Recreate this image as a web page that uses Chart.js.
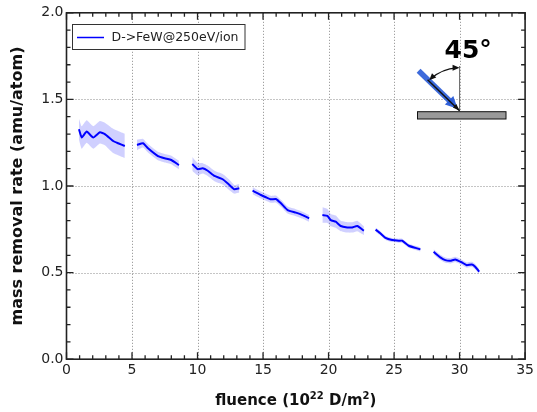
<!DOCTYPE html>
<html>
<head>
<meta charset="utf-8">
<script src="https://cdn.jsdelivr.net/npm/chart.js@4/dist/chart.umd.min.js"></script>
<style>
  html, body { margin: 0; padding: 0; background: #fff; }
  #wrap { width: 537px; height: 412px; }
</style>
</head>
<body>
<div id="wrap"><canvas id="c" width="537" height="412"></canvas></div>
<script>
// fluence (10^22 D/m^2), one list per measurement run
const fluence = [
  [0.95, 1.16, 1.54, 2.04, 2.55, 2.93, 3.56, 3.94, 4.45],
  [5.38, 5.84, 6.22, 6.98, 7.49, 8.0, 8.58],
  [9.6, 10.02, 10.4, 10.78, 11.29, 11.92, 12.43, 12.81, 13.19],
  [14.2, 14.84, 15.22, 15.6, 15.98, 16.37, 16.87, 17.51, 18.01, 18.52],
  [19.53, 19.91, 20.17, 20.55, 20.93, 21.43, 21.81, 22.19, 22.7],
  [23.59, 23.95, 24.35, 24.85, 25.36, 25.61, 26.12, 26.63, 27.01],
  [28.02, 28.53, 28.91, 29.29, 29.67, 30.17, 30.55, 30.94, 31.19, 31.5]
];
// mass removal rate (amu/atom)
const removalRate = [
  [1.328, 1.28, 1.314, 1.28, 1.31, 1.30, 1.26, 1.247, 1.231],
  [1.237, 1.247, 1.218, 1.173, 1.16, 1.15, 1.121],
  [1.127, 1.097, 1.102, 1.088, 1.058, 1.039, 1.006, 0.981, 0.987],
  [0.973, 0.948, 0.935, 0.923, 0.925, 0.90, 0.861, 0.846, 0.832, 0.813],
  [0.832, 0.827, 0.803, 0.794, 0.769, 0.761, 0.761, 0.769, 0.742],
  [0.748, 0.727, 0.70, 0.688, 0.684, 0.684, 0.655, 0.643, 0.634],
  [0.62, 0.588, 0.572, 0.568, 0.576, 0.559, 0.543, 0.547, 0.534, 0.505]
];
// half width of the shaded band
const rateSpread = [
  [0.06, 0.065, 0.065, 0.065, 0.065, 0.065, 0.07, 0.07, 0.07],
  [0.03, 0.025, 0.025, 0.025, 0.025, 0.025, 0.025],
  [0.04, 0.035, 0.03, 0.03, 0.03, 0.03, 0.03, 0.025, 0.025],
  [0.02, 0.02, 0.02, 0.02, 0.02, 0.02, 0.02, 0.02, 0.02, 0.02],
  [0.045, 0.04, 0.035, 0.035, 0.03, 0.03, 0.03, 0.03, 0.025],
  [0.012, 0.012, 0.012, 0.012, 0.012, 0.012, 0.012, 0.012, 0.012],
  [0.015, 0.015, 0.015, 0.015, 0.015, 0.015, 0.015, 0.015, 0.015, 0.015]
];
const xTicks = [0, 5, 10, 15, 20, 25, 30, 35];
const yTicks = [0, 0.5, 1.0, 1.5, 2.0];
const seriesLabel = "D->FeW@250eV/ion";
const angleLabel = "45°";

const FONT = "'DejaVu Sans', Verdana, sans-serif";
const LINE = "#0000ff";
const BAND = "rgba(80,80,255,0.27)";
const TENSION = 0.15;

const datasets = [];
fluence.forEach((xs, i) => {
  const lowIdx = datasets.length;
  datasets.push({
    data: xs.map((x, j) => ({ x: x, y: removalRate[i][j] - rateSpread[i][j] })),
    borderWidth: 0, pointRadius: 0, fill: false, tension: TENSION, order: 2
  });
  datasets.push({
    data: xs.map((x, j) => ({ x: x, y: removalRate[i][j] + rateSpread[i][j] })),
    borderWidth: 0, pointRadius: 0, fill: { target: lowIdx }, backgroundColor: BAND,
    tension: TENSION, order: 2
  });
  datasets.push({
    data: xs.map((x, j) => ({ x: x, y: removalRate[i][j] })),
    borderColor: LINE, borderWidth: 2, pointRadius: 0, fill: false, tension: TENSION, order: 1
  });
});

function arrowHead(ctx, x, y, ang, len, wid) {
  ctx.beginPath();
  ctx.moveTo(x, y);
  ctx.lineTo(x - len * Math.cos(ang) + wid * Math.sin(ang), y - len * Math.sin(ang) - wid * Math.cos(ang));
  ctx.lineTo(x - len * Math.cos(ang) - wid * Math.sin(ang), y - len * Math.sin(ang) + wid * Math.cos(ang));
  ctx.closePath();
  ctx.fill();
}

const framePlugin = {
  id: "frame",
  beforeDatasetsDraw(chart) {
    const { ctx, chartArea: a, scales: { x, y } } = chart;
    ctx.save();
    ctx.strokeStyle = "#8a8a8a";
    ctx.lineWidth = 1;
    ctx.setLineDash([1, 2]);
    xTicks.slice(1, -1).forEach(v => {
      const px = Math.round(x.getPixelForValue(v)) + 0.5;
      ctx.beginPath(); ctx.moveTo(px, a.top); ctx.lineTo(px, a.bottom); ctx.stroke();
    });
    yTicks.slice(1, -1).forEach(v => {
      const py = Math.round(y.getPixelForValue(v)) + 0.5;
      ctx.beginPath(); ctx.moveTo(a.left, py); ctx.lineTo(a.right, py); ctx.stroke();
    });
    ctx.restore();
  },
  afterDatasetsDraw(chart) {
    const { ctx, chartArea: a, scales: { x, y } } = chart;
    ctx.save();

    // tick marks, inward, all four sides
    ctx.strokeStyle = "#222";
    ctx.lineWidth = 1.3;
    for (let v = 0; v <= 35; v++) {
      const px = x.getPixelForValue(v);
      const len = v % 5 === 0 ? 7 : 4;
      ctx.beginPath();
      ctx.moveTo(px, a.bottom); ctx.lineTo(px, a.bottom - len);
      ctx.moveTo(px, a.top); ctx.lineTo(px, a.top + len);
      ctx.stroke();
    }
    for (let k = 0; k <= 20; k++) {
      const py = y.getPixelForValue(k / 10);
      const len = k % 5 === 0 ? 7 : 4;
      ctx.beginPath();
      ctx.moveTo(a.left, py); ctx.lineTo(a.left + len, py);
      ctx.moveTo(a.right, py); ctx.lineTo(a.right - len, py);
      ctx.stroke();
    }
    ctx.lineWidth = 1.6;
    ctx.strokeRect(a.left, a.top, a.right - a.left, a.bottom - a.top);

    // legend
    ctx.fillStyle = "#fff";
    ctx.fillRect(72.5, 24.5, 172.5, 25);
    ctx.strokeStyle = "#333";
    ctx.lineWidth = 1;
    ctx.strokeRect(72.5, 24.5, 172.5, 25);
    ctx.strokeStyle = LINE;
    ctx.lineWidth = 1.5;
    ctx.beginPath(); ctx.moveTo(77, 37.5); ctx.lineTo(104, 37.5); ctx.stroke();
    ctx.fillStyle = "#222";
    ctx.font = "12.5px " + FONT;
    ctx.textBaseline = "middle";
    ctx.textAlign = "left";
    ctx.fillText(seriesLabel, 111.5, 38);

    // inset: 45 degree incidence sketch
    const tipX = x.getPixelForValue(30), tipY = 110.7;
    ctx.fillStyle = "#999";
    ctx.fillRect(417.5, 111.7, 88.5, 7.3);
    ctx.strokeStyle = "#111";
    ctx.lineWidth = 1;
    ctx.strokeRect(417.5, 111.7, 88.5, 7.3);
    ctx.strokeStyle = "#666";
    ctx.beginPath(); ctx.moveTo(tipX, 66); ctx.lineTo(tipX, tipY); ctx.stroke();
    ctx.strokeStyle = "rgba(40,90,215,0.9)";
    ctx.lineWidth = 5.5;
    ctx.beginPath(); ctx.moveTo(tipX - 41, tipY - 40); ctx.lineTo(tipX - 8, tipY - 8); ctx.stroke();
    ctx.fillStyle = "rgba(40,90,215,0.95)";
    arrowHead(ctx, tipX - 2, tipY - 2, Math.PI / 4, 12, 6);
    ctx.strokeStyle = "#111";
    ctx.lineWidth = 1.5;
    ctx.beginPath(); ctx.moveTo(tipX - 32, tipY - 31); ctx.lineTo(tipX, tipY); ctx.stroke();
    ctx.fillStyle = "#111";
    arrowHead(ctx, tipX, tipY, Math.PI / 4, 7, 2.5);
    // angle arc
    const r = 43;
    ctx.lineWidth = 1.2;
    ctx.beginPath(); ctx.arc(tipX, tipY, r, -Math.PI * 0.73, -Math.PI * 0.52); ctx.stroke();
    const p1 = -Math.PI * 0.75, p2 = -Math.PI * 0.5;
    arrowHead(ctx, tipX + r * Math.cos(p1), tipY + r * Math.sin(p1), p1 - Math.PI / 2, 7, 3);
    arrowHead(ctx, tipX + r * Math.cos(p2), tipY + r * Math.sin(p2), p2 + Math.PI / 2, 7, 3);
    ctx.fillStyle = "#000";
    ctx.font = "bold 25px " + FONT;
    ctx.textBaseline = "alphabetic";
    ctx.fillText(angleLabel, 444.5, 57.5);

    // axis titles
    ctx.fillStyle = "#111";
    ctx.font = "bold 16px " + FONT;
    ctx.textAlign = "center";
    ctx.textBaseline = "middle";
    ctx.translate(18, (a.top + a.bottom) / 2);
    ctx.rotate(-Math.PI / 2);
    ctx.fillText("mass removal rate (amu/atom)", 0, 0);
    ctx.setTransform(1, 0, 0, 1, 0, 0);

    const parts = [["fluence (10", 15, 0], ["22", 10, -6], [" D/m", 15, 0], ["2", 10, -6], [")", 15, 0]];
    ctx.textAlign = "left";
    ctx.textBaseline = "alphabetic";
    let w = 0;
    parts.forEach(p => { ctx.font = "bold " + p[1] + "px " + FONT; w += ctx.measureText(p[0]).width; });
    let cx = (a.left + a.right) / 2 - w / 2;
    parts.forEach(p => {
      ctx.font = "bold " + p[1] + "px " + FONT;
      ctx.fillText(p[0], cx, 405 + p[2]);
      cx += ctx.measureText(p[0]).width;
    });
    ctx.restore();
  }
};

new Chart(document.getElementById("c"), {
  type: "line",
  data: { datasets: datasets },
  options: {
    responsive: false,
    animation: false,
    events: [],
    layout: { padding: { left: 0, right: 10.3, top: 12.8, bottom: 0 } },
    plugins: { legend: { display: false }, tooltip: { enabled: false } },
    scales: {
      x: {
        type: "linear", min: 0, max: 35,
        afterFit: s => { s.height = 52.8; },
        afterBuildTicks: s => { s.ticks = xTicks.map(v => ({ value: v })); },
        grid: { display: false, drawTicks: false },
        border: { display: false },
        ticks: { padding: 3, color: "#222", font: { family: FONT, size: 14 } }
      },
      y: {
        type: "linear", min: 0, max: 2,
        afterFit: s => { s.width = 66.5; },
        afterBuildTicks: s => { s.ticks = yTicks.map(v => ({ value: v })); },
        grid: { display: false, drawTicks: false },
        border: { display: false },
        ticks: { padding: 3, color: "#222", font: { family: FONT, size: 14 },
                 callback: v => v.toFixed(1) }
      }
    }
  },
  plugins: [framePlugin]
});
</script>
</body>
</html>
